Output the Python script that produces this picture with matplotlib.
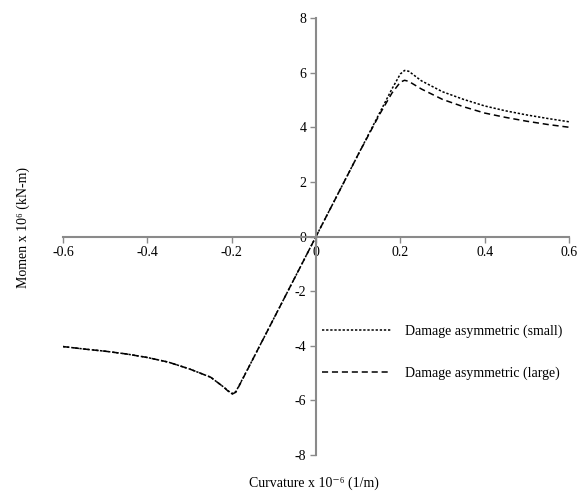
import matplotlib
matplotlib.use("Agg")
import matplotlib.pyplot as plt

# curvature (x 10^-6 1/m) and moment (x 10^6 kN-m)
curvature = [-0.6, -0.55, -0.5, -0.45, -0.4, -0.35, -0.3, -0.25, -0.22, -0.2, -0.19,
             -0.15, -0.1, -0.05, 0.0, 0.05, 0.1, 0.15, 0.18, 0.2, 0.21, 0.22, 0.25,
             0.3, 0.35, 0.4, 0.45, 0.5, 0.55, 0.6]
moment_small = [-4.03, -4.12, -4.2, -4.3, -4.43, -4.6, -4.85, -5.15, -5.5, -5.75, -5.68,
                -4.5, -3.0, -1.5, 0.0, 1.5, 3.0, 4.5, 5.4, 5.95, 6.08, 6.05, 5.7,
                5.3, 5.02, 4.78, 4.6, 4.45, 4.32, 4.2]
moment_large = [-4.03, -4.12, -4.2, -4.3, -4.43, -4.6, -4.85, -5.15, -5.5, -5.78, -5.7,
                -4.5, -3.0, -1.5, 0.0, 1.5, 3.0, 4.45, 5.25, 5.65, 5.72, 5.68, 5.4,
                5.02, 4.75, 4.52, 4.36, 4.22, 4.1, 4.0]

x_ticks = [-0.6, -0.4, -0.2, 0, 0.2, 0.4, 0.6]
y_ticks = [-8, -6, -4, -2, 0, 2, 4, 6, 8]

plt.rcParams["font.family"] = ["Liberation Serif", "DejaVu Serif"]
plt.rcParams["font.size"] = 10
plt.rcParams["axes.unicode_minus"] = False

fig = plt.figure(figsize=(5.84, 4.92), dpi=100)
ax = fig.add_axes([63 / 584, 1 - 455 / 492, 506 / 584, 437 / 492])

ax.plot(curvature, moment_small, color="black", lw=1.1, linestyle=(0, (1.5, 1.2)),
        label="Damage asymmetric (small)")
ax.plot(curvature, moment_large, color="black", lw=1.1, linestyle=(0, (4, 2.5)),
        label="Damage asymmetric (large)")

ax.set_xlim(-0.6, 0.6)
ax.set_ylim(-8, 8)
ax.set_xticks(x_ticks)
ax.set_xticklabels(["-0.6", "-0.4", "-0.2", "0", "0.2", "0.4", "0.6"])
ax.set_yticks(y_ticks)

gray = "#8a8a8a"
ax.spines["left"].set_position(("data", 0))
ax.spines["bottom"].set_position(("data", 0))
ax.spines["top"].set_visible(False)
ax.spines["right"].set_visible(False)
for s in ("left", "bottom"):
    ax.spines[s].set_color(gray)
    ax.spines[s].set_linewidth(1.5)
ax.tick_params(colors=gray, length=4, width=1, labelcolor="black", pad=3)

fig.text(314 / 584, 1 - 483 / 492, "Curvature x 10⁻⁶ (1/m)", ha="center", va="center")
fig.text(23 / 584, 1 - 227 / 492, "Momen x 10⁶ (kN-m)", ha="center", va="center",
         rotation=90)

ax.legend(loc="upper left", bbox_to_anchor=(322 / 584, 1 - 325 / 492),
          bbox_transform=fig.transFigure, frameon=False, borderpad=0, borderaxespad=0,
          handlelength=5.0, handletextpad=1.0, labelspacing=2.0)

fig.savefig("out.png", dpi=100)
